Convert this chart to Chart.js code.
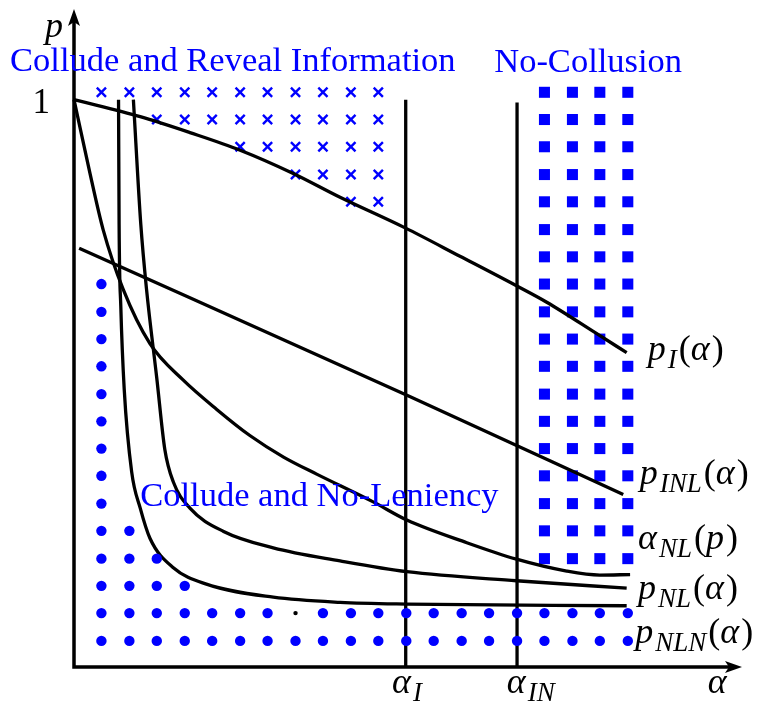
<!DOCTYPE html>
<html lang="en">
<head>
  <meta charset="UTF-8">
  <title>Collusion regions</title>
  <script src="https://cdn.jsdelivr.net/npm/chart.js"></script>
  <style>
    body {
      margin: 0;
      padding: 0;
      background: #ffffff;
    }
    #wrap {
      width: 763px;
      height: 713px;
    }
  </style>
</head>
<body>
  <div id="wrap">
    <canvas id="regions" width="763" height="713"></canvas>
  </div>

  <script>
    // grid of region markers (alpha columns, p rows)
    const gridAlpha = [0.048, 0.097, 0.145, 0.194, 0.242, 0.291, 0.339, 0.388, 0.436, 0.485,
                       0.533, 0.582, 0.630, 0.679, 0.727, 0.776, 0.824, 0.873, 0.921, 0.970];
    const gridP = [1.013, 0.965, 0.917, 0.868, 0.820, 0.771, 0.723, 0.675, 0.626, 0.578, 0.530,
                   0.481, 0.433, 0.385, 0.337, 0.288, 0.240, 0.191, 0.143, 0.095, 0.046];

    // [row, first column, last column]
    const revealCells = [[0, 0, 10], [1, 2, 10], [2, 5, 10], [3, 7, 10], [4, 9, 10]];
    const noCollusionCells = [[0, 16, 19], [1, 16, 19], [2, 16, 19], [3, 16, 19], [4, 16, 19], [5, 16, 19],
                              [6, 16, 19], [7, 16, 19], [8, 16, 19], [9, 16, 19], [10, 16, 19], [11, 16, 19],
                              [12, 16, 19], [13, 16, 19], [14, 16, 19], [15, 16, 19], [16, 16, 19], [17, 16, 19]];
    const noLeniencyCells = [[7, 0, 0], [8, 0, 0], [9, 0, 0], [10, 0, 0], [11, 0, 0], [12, 0, 0], [13, 0, 0],
                             [14, 0, 0], [15, 0, 0], [16, 0, 1], [17, 0, 2], [18, 0, 3], [19, 0, 19], [20, 0, 19]];
    const smallDotCell = [19, 7];

    // curves
    const pIAlpha = [0.000, 0.116, 0.203, 0.291, 0.384, 0.466, 0.580, 0.676, 0.775, 0.828, 0.915, 0.968];
    const pIValue = [1.000, 0.970, 0.942, 0.911, 0.870, 0.828, 0.774, 0.724, 0.672, 0.643, 0.588, 0.554];

    const pINLAlpha = [0.009, 0.588, 0.962];
    const pINLValue = [0.738, 0.477, 0.304];

    const aNLAlpha = [0.000, 0.028, 0.051, 0.086, 0.133, 0.191, 0.250, 0.308, 0.367, 0.425, 0.524,
                      0.583, 0.688, 0.775, 0.863, 0.921, 0.974];
    const aNLValue = [1.000, 0.870, 0.771, 0.666, 0.570, 0.506, 0.454, 0.408, 0.370, 0.340, 0.291,
                      0.259, 0.219, 0.190, 0.169, 0.162, 0.163];

    const pNLAlpha = [0.104, 0.117, 0.127, 0.145, 0.159, 0.174, 0.203, 0.262, 0.349, 0.466, 0.583, 0.775, 0.968];
    const pNLValue = [1.000, 0.780, 0.666, 0.509, 0.384, 0.326, 0.280, 0.239, 0.210, 0.187, 0.168, 0.152, 0.139];

    const pNLNAlpha = [0.078, 0.079, 0.082, 0.088, 0.101, 0.116, 0.133, 0.174, 0.232, 0.349, 0.466, 0.583, 0.968];
    const pNLNValue = [1.000, 0.780, 0.635, 0.489, 0.344, 0.280, 0.227, 0.175, 0.146, 0.123, 0.114, 0.111, 0.108];

    // thresholds on the alpha axis
    const alphaI = 0.581;
    const alphaIN = 0.776;
    const alphaINTop = 0.995;

    const BLUE = '#0000ff';

    function toPoints(xs, ys) {
      return xs.map((x, i) => ({ x: x, y: ys[i] }));
    }

    function cellPoints(cells, skip) {
      const pts = [];
      cells.forEach(([r, c0, c1]) => {
        for (let c = c0; c <= c1; c++) {
          if (skip && skip[0] === r && skip[1] === c) continue;
          pts.push({ x: gridAlpha[c], y: gridP[r] });
        }
      });
      return pts;
    }

    function curve(xs, ys) {
      return {
        type: 'line',
        data: toPoints(xs, ys),
        borderColor: '#000000',
        borderWidth: 3.3,
        pointRadius: 0,
        cubicInterpolationMode: 'monotone',
        fill: false,
        clip: false
      };
    }

    // math style text: [text, 'i' italic | 'r' roman | 's' subscript]
    const SERIF = '"Liberation Serif", "DejaVu Serif", serif';
    function drawRuns(ctx, x, y, runs, size) {
      const fontFor = st => st === 'r' ? `${size}px ${SERIF}`
        : st === 's' ? `italic ${Math.round(size * 0.76)}px ${SERIF}`
        : `italic ${size}px ${SERIF}`;
      let cx = x;
      runs.forEach(([t, st]) => {
        ctx.font = fontFor(st);
        ctx.fillText(t, cx, st === 's' ? y + 8 : y);
        cx += ctx.measureText(t).width + (st === 'r' ? 0 : 2);
      });
    }

    const curveLabels = [
      { a: 1.005, p: 0.541, runs: [['p', 'i'], ['I', 's'], ['(', 'r'], ['α', 'i'], [')', 'r']] },
      { a: 0.991, p: 0.323, runs: [['p', 'i'], ['INL', 's'], ['(', 'r'], ['α', 'i'], [')', 'r']] },
      { a: 0.988, p: 0.208, runs: [['α', 'i'], ['NL', 's'], ['(', 'r'], ['p', 'i'], [')', 'r']] },
      { a: 0.988, p: 0.120, runs: [['p', 'i'], ['NL', 's'], ['(', 'r'], ['α', 'i'], [')', 'r']] },
      { a: 0.983, p: 0.042, runs: [['p', 'i'], ['NLN', 's'], ['(', 'r'], ['α', 'i'], [')', 'r']] },
      { a: 0.557, p: -0.045, runs: [['α', 'i'], ['I', 's']] },
      { a: 0.758, p: -0.045, runs: [['α', 'i'], ['IN', 's']] },
      { a: 1.110, p: -0.045, runs: [['α', 'i']] },
      { a: -0.051, p: 1.111, runs: [['p', 'i']] }
    ];

    const regionLabels = [
      { a: -0.112, p: 1.050, text: 'Collude and Reveal Information' },
      { a: 0.736, p: 1.048, text: 'No-Collusion' },
      { a: 0.116, p: 0.283, text: 'Collude and No-Leniency' }
    ];

    const axesAndText = {
      id: 'axesAndText',
      afterDatasetsDraw(chart) {
        const { ctx, chartArea: area } = chart;
        ctx.save();
        ctx.strokeStyle = '#000';
        ctx.fillStyle = '#000';
        ctx.lineWidth = 3.5;
        ctx.beginPath();
        ctx.moveTo(area.left, area.bottom);
        ctx.lineTo(area.left, area.top + 12);
        ctx.moveTo(area.left - 1.75, area.bottom);
        ctx.lineTo(area.right - 12, area.bottom);
        ctx.stroke();
        // arrow heads
        ctx.beginPath();
        ctx.moveTo(area.left, area.top);
        ctx.lineTo(area.left - 6, area.top + 17);
        ctx.lineTo(area.left, area.top + 13);
        ctx.lineTo(area.left + 6, area.top + 17);
        ctx.closePath();
        ctx.fill();
        ctx.beginPath();
        ctx.moveTo(area.right, area.bottom);
        ctx.lineTo(area.right - 17, area.bottom - 6);
        ctx.lineTo(area.right - 13, area.bottom);
        ctx.lineTo(area.right - 17, area.bottom + 6);
        ctx.closePath();
        ctx.fill();
        ctx.restore();
      },
      afterDraw(chart) {
        const { ctx, scales } = chart;
        const X = v => scales.x.getPixelForValue(v);
        const Y = v => scales.y.getPixelForValue(v);
        ctx.save();
        ctx.textBaseline = 'alphabetic';
        ctx.textAlign = 'left';
        ctx.fillStyle = '#000';
        curveLabels.forEach(l => drawRuns(ctx, X(l.a), Y(l.p), l.runs, 36));
        ctx.font = `35px ${SERIF}`;
        ctx.textAlign = 'right';
        ctx.fillText('1', X(-0.042), Y(0.977));
        ctx.textAlign = 'left';
        ctx.fillStyle = BLUE;
        ctx.font = `34.5px ${SERIF}`;
        regionLabels.forEach(l => ctx.fillText(l.text, X(l.a), Y(l.p)));
        ctx.restore();
      }
    };

    new Chart(document.getElementById('regions'), {
      type: 'scatter',
      data: {
        datasets: [
          {
            label: 'Collude and No-Leniency',
            data: cellPoints(noLeniencyCells, smallDotCell),
            pointStyle: 'circle',
            pointRadius: 5.2,
            pointBorderWidth: 0,
            pointBackgroundColor: BLUE,
            clip: false
          },
          {
            label: 'small',
            data: [{ x: gridAlpha[smallDotCell[1]], y: gridP[smallDotCell[0]] }],
            pointRadius: 2.2,
            pointBorderWidth: 0,
            pointBackgroundColor: '#000'
          },
          Object.assign(curve(pIAlpha, pIValue), { label: 'pI' }),
          Object.assign(curve(pINLAlpha, pINLValue), { label: 'pINL' }),
          Object.assign(curve(aNLAlpha, aNLValue), { label: 'aNL' }),
          Object.assign(curve(pNLAlpha, pNLValue), { label: 'pNL' }),
          Object.assign(curve(pNLNAlpha, pNLNValue), { label: 'pNLN' }),
          Object.assign(curve([alphaI, alphaI], [1.0, 0]), { label: 'alphaI' }),
          Object.assign(curve([alphaIN, alphaIN], [alphaINTop, 0]), { label: 'alphaIN' }),
          {
            label: 'No-Collusion',
            data: cellPoints(noCollusionCells),
            pointStyle: 'rect',
            pointRadius: 7.8,
            pointBorderWidth: 0,
            pointBackgroundColor: BLUE,
            clip: false
          },
          {
            label: 'Collude and Reveal Information',
            data: cellPoints(revealCells),
            pointStyle: 'crossRot',
            pointRadius: 6.5,
            pointBorderWidth: 2.4,
            pointBorderColor: BLUE,
            clip: false
          }
        ]
      },
      options: {
        responsive: false,
        animation: false,
        layout: { padding: { left: 74, right: 21, top: 2, bottom: 46 } },
        scales: {
          x: { type: 'linear', min: 0, max: 1.17, display: false },
          y: { type: 'linear', min: 0, max: 1.16, display: false }
        },
        plugins: {
          legend: { display: false },
          tooltip: { enabled: false }
        },
        events: []
      },
      plugins: [axesAndText]
    });
  </script>
</body>
</html>
